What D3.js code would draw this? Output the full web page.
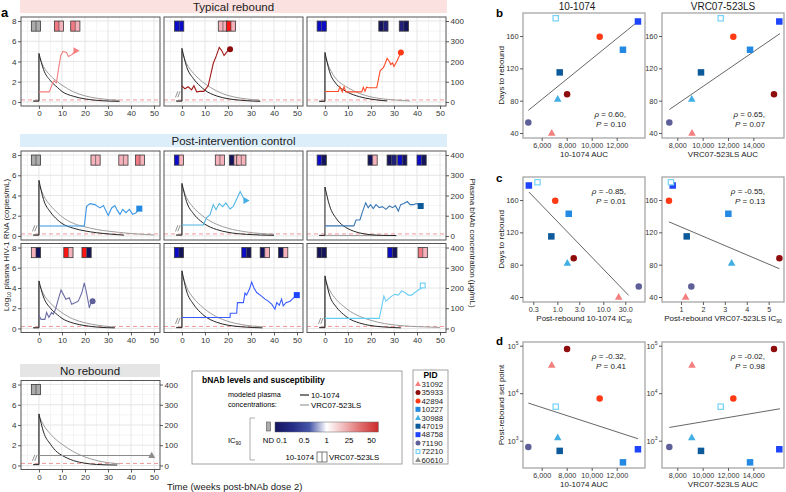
<!DOCTYPE html>
<html>
<head>
<meta charset="utf-8">
<script src="https://cdn.jsdelivr.net/npm/d3@7"></script>
<style>
  body { margin: 0; background: #fff; }
  svg { font-family: "Liberation Sans", Arial, sans-serif; }
</style>
</head>
<body>
<svg width="786" height="492"></svg>
<script>
// participants, in the order of the PID legend
const pids = ['31092', '35933', '42894', '10227', '30988', '47019', '48758', '71190', '72210', '60610'];
const pidColors = ['#F47F7F', '#8E0C0C', '#FF3A14', '#2389E3', '#41AFE3', '#0D5A9A', '#1F45FC', '#5E5E98', '#74D2F7', '#8C8C8C'];
const pidShapes = ['triangle', 'circle', 'circle', 'square', 'triangle', 'square', 'square', 'circle', 'openSquare', 'triangle'];
const timeMarkerShapes = ['triangleRight', 'circle', 'circle', 'square', 'triangleRight', 'square', 'square', 'circle', 'openSquare', 'triangle'];
const lineColors = ['#F47F7F', '#A31A1A', '#FF4A2A', '#3A97E6', '#52B8E6', '#3A78B5', '#3A5CFF', '#6E6EA6', '#6ACDF5', '#8C8C8C'];

// panel a layout
const stripLabels = ['Typical rebound', 'Post-intervention control', 'No rebound'];
const facetRows = [['31092', '35933', '42894'], ['10227', '30988', '47019'], ['71190', '48758', '72210'], ['60610']];
const weekTicks = [0, 10, 20, 30, 40, 50];
const weekMinor = [-5, 5, 15, 25, 35, 45];
const logTicks = [0, 2, 4, 6, 8];
const logMinor = [1, 3, 5, 7];
const bnabTicks = [0, 100, 200, 300, 400];
const detectionLog = 0.2;
const breakPids = ['35933', '10227', '30988', '48758', '72210', '60610'];

// viral load, [week, log10 copies/mL]; last point carries the marker
const vl31092 = [[0, 1], [4.5, 1], [6, 1.9], [6.6, 2.1], [7.6, 1.9], [8.6, 3.4], [9.5, 4.6], [10.4, 5.0], [12, 4.9], [12.8, 4.5], [14.5, 4.7], [15.5, 5.0], [16.1, 5.07]];
const vl35933 = [[0, 1.6], [1.3, 1.3], [2.7, 1.5], [4.2, 1.2], [5.2, 1.6], [6.4, 1.0], [7.8, 1.05], [9.5, 1.05], [11.4, 1.6], [13.6, 3.8], [15, 4.6], [16.2, 5.4], [17.2, 5.1], [18.3, 4.6], [19.4, 4.9], [20, 5.1], [20.9, 5.2]];
const vl42894 = [[0, 1.04], [5.8, 1.04], [6.5, 1.5], [7.5, 1.0], [8.3, 1.5], [9.1, 1.0], [16, 1.0], [16.7, 1.45], [17.4, 1.05], [18.1, 1.45], [18.8, 1.4], [22.5, 1.4], [24, 3.1], [25.4, 3.4], [26, 3.7], [27, 4.3], [28, 4.0], [28.6, 3.7], [29.4, 3.85], [30, 3.5], [31.2, 4.0], [32.2, 4.5], [33, 4.9]];
const vl10227 = [[0, 0.98], [19.7, 0.98], [20.7, 2.93], [22.2, 3.2], [24.3, 3.1], [26.5, 2.77], [28, 3.0], [30.1, 2.03], [31.6, 2.77], [33, 3.0], [34, 2.55], [35.2, 2.13], [36.4, 2.62], [37.8, 2.3], [39.3, 2.62], [40.7, 2.13], [42.2, 2.3], [43.6, 2.7]];
const vl30988 = [[0, 1.08], [9.3, 1.08], [10.7, 1.8], [12.2, 2.1], [13.6, 3.1], [14.8, 2.6], [16.2, 3.2], [17.7, 2.9], [19.1, 3.26], [20.9, 2.67], [22.3, 2.93], [24, 3.75], [25.3, 4.4], [26.7, 3.75], [27.8, 3.5]];
const vl47019 = [[0, 1.0], [12.6, 1.0], [13.5, 1.58], [15.2, 1.58], [16.4, 2.46], [17.7, 3.27], [18.8, 2.8], [19.8, 3.1], [21, 2.7], [22.2, 3.1], [23.6, 2.8], [25, 2.9], [26.5, 2.63], [28, 2.96], [29.4, 2.8], [30.6, 3.0], [31.9, 2.46], [32.9, 3.1], [34.3, 3.2], [35.8, 3.4], [37, 3.1], [38.4, 3.1], [39.9, 3.2], [41.6, 2.96]];
const vl71190 = [[0, 1.3], [0.9, 0.9], [2.6, 0.9], [3.3, 1.58], [4.3, 1.1], [5.5, 1.58], [6.2, 1.4], [7.2, 1.9], [8.4, 2.88], [9.6, 3.8], [10.6, 3.37], [11.7, 2.88], [13.2, 3.04], [14.2, 2.4], [15.7, 2.55], [17.1, 2.7], [18.6, 3.5], [19.7, 4.5], [20.7, 3.5], [21.9, 2.04], [22.6, 2.55], [23.3, 2.7]];
const vl48758 = [[0, 1.09], [20.9, 1.09], [21, 1.5], [23.8, 1.5], [24.1, 2.55], [26.7, 2.55], [27.4, 3.5], [28.1, 3.3], [29.3, 3.87], [30.3, 4.58], [31.3, 4.0], [32.5, 3.55], [34.6, 3.2], [36.1, 2.9], [37.5, 2.7], [39, 2.4], [40.4, 1.9], [41.2, 2.55], [42.3, 2.3], [43.3, 2.9], [44, 2.23], [45.2, 2.55], [47, 2.7], [48.4, 3.0], [49.9, 3.3]];
const vl72210 = [[0, 1.0], [23.6, 1.0], [25.6, 3.2], [26.5, 2.7], [27.5, 2.9], [29, 3.2], [30.4, 3.37], [31.9, 3.3], [33.3, 3.7], [34.8, 3.55], [36.2, 3.3], [37.7, 3.3], [39.1, 3.55], [40.6, 3.8], [42, 4.0], [42.5, 4.25]];
const vl60610 = [[0, 0.98], [49, 0.98]];

// modeled plasma bNAb, [week, ug/mL]
const pk1074_31092 = [[-2.5, 4], [0, 4], [0, 240], [2, 160], [5, 105], [8, 72], [10, 52], [15, 28], [20, 15], [26, 7], [35, 3]];
const pkVrc_31092 = [[-2.5, 6], [0, 6], [0, 225], [2, 175], [5, 130], [8, 100], [10, 83], [15, 50], [20, 30], [26, 17], [35, 8]];
const pk1074_35933 = [[-2.5, 4], [0, 4], [0, 265], [2, 175], [5, 115], [8, 78], [10, 58], [15, 30], [20, 16], [26, 8], [34, 3]];
const pkVrc_35933 = [[-2.5, 6], [0, 6], [0, 250], [2, 190], [5, 142], [8, 108], [10, 90], [15, 55], [20, 32], [26, 18], [34, 8]];
const pk1074_42894 = [[-2.5, 3], [0, 3], [0, 245], [2, 150], [5, 88], [8, 60], [10, 47], [15, 26], [20, 14], [27, 5]];
const pkVrc_42894 = [[-2.5, 5], [0, 5], [0, 230], [2, 168], [5, 112], [8, 84], [10, 70], [15, 42], [20, 25], [26, 14], [30, 10], [37, 5]];
const pk1074_10227 = [[-2.5, 4], [0, 4], [0, 275], [2, 180], [5, 118], [8, 80], [10, 62], [15, 38], [20, 25], [25, 16], [30, 10], [37, 4]];
const pkVrc_10227 = [[-2.5, 6], [0, 6], [0, 255], [2, 200], [5, 150], [8, 115], [10, 95], [15, 62], [20, 45], [25, 32], [30, 24], [40, 12], [50, 5]];
const pk1074_30988 = [[-2.5, 4], [0, 4], [0, 260], [2, 170], [5, 110], [8, 75], [10, 58], [15, 32], [20, 18], [28, 8], [40, 3]];
const pkVrc_30988 = [[-2.5, 6], [0, 6], [0, 250], [2, 190], [5, 140], [8, 108], [10, 90], [15, 58], [20, 38], [28, 20], [40, 8]];
const pk1074_47019 = [[-2.5, 3], [0, 3], [0, 242], [2, 150], [5, 85], [8, 50], [10, 36], [15, 15], [20, 6], [25, 3], [31, 2]];
const pkVrc_47019 = [[-2.5, 2], [0, 2], [0, 3], [15, 2], [31, 2]];
const pk1074_71190 = [[-2.5, 3], [0, 3], [0, 235], [2, 155], [5, 100], [8, 68], [10, 50], [15, 26], [20, 14], [26, 6], [33, 3]];
const pkVrc_71190 = [[-2.5, 5], [0, 5], [0, 220], [2, 170], [5, 125], [8, 95], [10, 78], [15, 46], [20, 28], [26, 15], [33, 7]];
const pk1074_48758 = [[-2.5, 4], [0, 4], [0, 285], [2, 185], [5, 120], [8, 80], [10, 60], [15, 31], [20, 16], [26, 8], [35, 3]];
const pkVrc_48758 = [[-2.5, 6], [0, 6], [0, 272], [2, 205], [5, 150], [8, 115], [10, 95], [15, 58], [20, 35], [26, 19], [35, 8]];
const pk1074_72210 = [[-2.5, 4], [0, 4], [0, 260], [2, 165], [5, 105], [8, 70], [10, 52], [15, 27], [20, 14], [26, 7], [33, 3]];
const pkVrc_72210 = [[-2.5, 6], [0, 6], [0, 245], [2, 190], [5, 142], [8, 110], [10, 92], [15, 60], [20, 40], [26, 24], [33, 14], [40, 9], [50, 5]];
const pk1074_60610 = [[-2.5, 4], [0, 4], [0, 255], [2, 165], [5, 105], [8, 65], [10, 50], [15, 24], [20, 11], [25, 5], [34, 2]];
const pkVrc_60610 = [[-2.5, 6], [0, 6], [0, 245], [2, 200], [5, 155], [8, 122], [10, 105], [15, 68], [20, 42], [26, 22], [35, 8]];

// IC90 boxes, [week, 10-1074 class, VRC07-523LS class]
const ic90Colors = { nd: '#ABABAB', navy: '#14145C', navy2: '#20207A', blue: '#0B0BCB', pink: '#F6B2BB', salmon: '#F07984', red: '#FF1414' };
const ic31092 = [[-1.3, 'nd', 'nd'], [8.7, 'salmon', 'pink'], [15.8, 'salmon', 'pink']];
const ic35933 = [[-1.2, 'blue', 'blue'], [17.8, 'pink', 'pink'], [21.3, 'red', 'pink']];
const ic42894 = [[-1.4, 'blue', 'blue'], [25.4, 'navy', 'navy2'], [34.3, 'navy2', 'navy']];
const ic10227 = [[-1.3, 'nd', 'nd'], [24.6, 'pink', 'pink'], [36.7, 'pink', 'pink'], [43.9, 'salmon', 'pink']];
const ic30988 = [[-1.3, 'blue', 'pink'], [16.5, 'pink', 'pink'], [22.6, 'navy', 'pink'], [25.8, 'pink', 'pink']];
const ic47019 = [[-1.4, 'blue', 'navy'], [20.7, 'navy', 'pink'], [29, 'navy', 'navy2'], [33.6, 'blue', 'navy'], [42, 'blue', 'navy']];
const ic71190 = [[-1.3, 'pink', 'navy'], [12.8, 'red', 'pink'], [20.7, 'red', 'navy']];
const ic48758 = [[-1.3, 'blue', 'navy'], [28, 'blue', 'navy'], [36, 'navy', 'pink'], [44, 'navy', 'pink']];
const ic72210 = [[-1.4, 'navy', 'navy'], [29.3, 'blue', 'navy'], [42.5, 'salmon', 'pink']];
const ic60610 = [[-1.3, 'nd', 'nd']];

// IC90 colour bar
const ic90Labels = ['0.1', '0.5', '1', '25', '50'];
const ic90Gradient = ['#151560', '#242C86', '#4656A8', '#FFFFFF', '#F0B8B8', '#E06C6C', '#CC2A2A'];

// panels b-d, rebounders in PID order
const auc1074 = [6800, 8030, 10640, 12500, 7280, 7440, 13700, 4930, 7120];
const aucVrc = [9160, 15630, 12420, 13740, 9140, 9870, 16050, 7370, 11425];
const daysToRebound = [40, 88, 159, 143, 82, 115, 178, 53, 182];
const ic90Rebound1074 = [21.6, 2.27, 0.9, 1.77, 1.65, 0.74, 0.24, 59, 0.37];
const ic90ReboundVrc = [1.21, 5.49, 0.45, 3.16, 3.31, 1.26, 0.62, 1.47, 0.54];
const setPoint = [39000, 85000, 7700, 350, 1170, 610, 660, 740, 5200];
const fitB1074 = [[4930, 68], [13700, 178]];
const fitBVrc = [[7370, 69], [16100, 163]];
const fitC1074 = [[0.24, 170], [35.6, 42]];
const fitCVrc = [[0.45, 133], [5.49, 75]];
const fitD1074 = [[4930, 6200], [13700, 1100]];
const fitDVrc = [[7370, 1900], [16100, 4700]];
const rhoVals = ['0.60', '0.65', '-0.85', '-0.55', '-0.32', '-0.02'];
const pVals = ['0.10', '0.07', '0.01', '0.13', '0.41', '0.98'];

const svg = d3.select('svg');
const colorOf = {}, shapeOf = {}, timeShapeOf = {}, lineColorOf = {};
pids.forEach((p, i) => {
  colorOf[p] = pidColors[i];
  shapeOf[p] = pidShapes[i];
  timeShapeOf[p] = timeMarkerShapes[i];
  lineColorOf[p] = lineColors[i];
});
const vlByPid = { '31092': vl31092, '35933': vl35933, '42894': vl42894, '10227': vl10227, '30988': vl30988,
  '47019': vl47019, '48758': vl48758, '71190': vl71190, '72210': vl72210, '60610': vl60610 };
const pk1074ByPid = { '31092': pk1074_31092, '35933': pk1074_35933, '42894': pk1074_42894, '10227': pk1074_10227, '30988': pk1074_30988,
  '47019': pk1074_47019, '48758': pk1074_48758, '71190': pk1074_71190, '72210': pk1074_72210, '60610': pk1074_60610 };
const pkVrcByPid = { '31092': pkVrc_31092, '35933': pkVrc_35933, '42894': pkVrc_42894, '10227': pkVrc_10227, '30988': pkVrc_30988,
  '47019': pkVrc_47019, '48758': pkVrc_48758, '71190': pkVrc_71190, '72210': pkVrc_72210, '60610': pkVrc_60610 };
const icByPid = { '31092': ic31092, '35933': ic35933, '42894': ic42894, '10227': ic10227, '30988': ic30988,
  '47019': ic47019, '48758': ic48758, '71190': ic71190, '72210': ic72210, '60610': ic60610 };

function marker(g, shape, x, y, s, color) {
  if (shape === 'circle') {
    g.append('circle').attr('cx', x).attr('cy', y).attr('r', s / 2).attr('fill', color);
  } else if (shape === 'square') {
    g.append('rect').attr('x', x - s / 2).attr('y', y - s / 2).attr('width', s).attr('height', s).attr('fill', color);
  } else if (shape === 'openSquare') {
    g.append('rect').attr('x', x - s / 2 + 0.6).attr('y', y - s / 2 + 0.6).attr('width', s - 1.2).attr('height', s - 1.2)
      .attr('fill', '#fff').attr('stroke', color).attr('stroke-width', 1.2);
  } else if (shape === 'triangle') {
    g.append('path').attr('d', `M${x},${y - s * 0.62}L${x + s * 0.58},${y + s * 0.42}L${x - s * 0.58},${y + s * 0.42}Z`).attr('fill', color);
  } else if (shape === 'triangleRight') {
    g.append('path').attr('d', `M${x + s * 0.62},${y}L${x - s * 0.42},${y - s * 0.58}L${x - s * 0.42},${y + s * 0.58}Z`).attr('fill', color);
  }
}

function styleAxis(sel, size) {
  sel.select('.domain').remove();
  sel.attr('font-family', null).attr('font-size', null);
  sel.selectAll('.tick line').attr('stroke', '#333').attr('stroke-width', 0.8);
  sel.selectAll('.tick text').attr('fill', '#333').attr('font-size', size || 8);
}

// ---------- panel a ----------
const weekDomain = [-7.8, 52.6];
const logDomain = [-0.4, 8.4];
const bnabDomain = [-20, 420];
const panelW = 139, panelH = 89;
const colX = [21, 164, 307];
const rowY = [17, 151, 243.5, 380.5];

function timePanel(pid, x0, y0, axes) {
  const x = d3.scaleLinear().domain(weekDomain).range([x0, x0 + panelW]);
  const y = d3.scaleLinear().domain(logDomain).range([y0 + panelH, y0]);
  const yR = d3.scaleLinear().domain(bnabDomain).range([y0 + panelH, y0]);
  const g = svg.append('g');

  g.append('rect').attr('x', x0).attr('y', y0).attr('width', panelW).attr('height', panelH).attr('fill', '#fff');
  g.selectAll('.vminor').data(weekMinor).enter().append('line')
    .attr('x1', d => x(d)).attr('x2', d => x(d)).attr('y1', y0).attr('y2', y0 + panelH).attr('stroke', '#F4F4F4');
  g.selectAll('.hminor').data(logMinor).enter().append('line')
    .attr('y1', d => y(d)).attr('y2', d => y(d)).attr('x1', x0).attr('x2', x0 + panelW).attr('stroke', '#F4F4F4');
  g.selectAll('.vmajor').data(weekTicks).enter().append('line')
    .attr('x1', d => x(d)).attr('x2', d => x(d)).attr('y1', y0).attr('y2', y0 + panelH).attr('stroke', '#E6E6E6');
  g.selectAll('.hmajor').data(logTicks).enter().append('line')
    .attr('y1', d => y(d)).attr('y2', d => y(d)).attr('x1', x0).attr('x2', x0 + panelW).attr('stroke', '#E6E6E6');

  const clipId = 'clip' + pid;
  svg.append('clipPath').attr('id', clipId).append('rect')
    .attr('x', x0).attr('y', y0).attr('width', panelW).attr('height', panelH);
  const inner = g.append('g').attr('clip-path', `url(#${clipId})`);

  inner.append('line').attr('x1', x0).attr('x2', x0 + panelW).attr('y1', y(detectionLog)).attr('y2', y(detectionLog))
    .attr('stroke', '#F19A9A').attr('stroke-width', 1).attr('stroke-dasharray', '4,3');

  const stepLine = d3.line().x(d => x(d[0])).y(d => yR(d[1]));
  const decayLine = d3.line().x(d => x(d[0])).y(d => yR(d[1])).curve(d3.curveMonotoneX);
  [[pkVrcByPid[pid], '#9C9C9C'], [pk1074ByPid[pid], '#262626']].forEach(([pk, c]) => {
    inner.append('path').attr('d', stepLine(pk.slice(0, 3))).attr('fill', 'none').attr('stroke', c).attr('stroke-width', 1);
    inner.append('path').attr('d', decayLine(pk.slice(2))).attr('fill', 'none').attr('stroke', c).attr('stroke-width', 1);
  });

  if (breakPids.includes(pid)) {
    [-2.3, -1.3].forEach(w => {
      inner.append('line').attr('x1', x(w - 0.5)).attr('y1', y(0.45)).attr('x2', x(w + 0.5)).attr('y2', y(1.05))
        .attr('stroke', '#777').attr('stroke-width', 0.8);
    });
  }

  const vl = vlByPid[pid];
  inner.append('path').datum(vl)
    .attr('d', d3.line().x(d => x(d[0])).y(d => y(d[1])))
    .attr('fill', 'none').attr('stroke', lineColorOf[pid]).attr('stroke-width', 1.1);
  const last = vl[vl.length - 1];
  marker(inner, timeShapeOf[pid], x(last[0]), y(last[1]), 6, colorOf[pid]);

  icByPid[pid].forEach(([w, c1, c2]) => {
    const bt = y(8), bb = y(7);
    g.append('rect').attr('x', x(w - 2)).attr('y', bt).attr('width', x(w) - x(w - 2)).attr('height', bb - bt).attr('fill', ic90Colors[c1]);
    g.append('rect').attr('x', x(w)).attr('y', bt).attr('width', x(w + 2) - x(w)).attr('height', bb - bt).attr('fill', ic90Colors[c2]);
    g.append('rect').attr('x', x(w - 2)).attr('y', bt).attr('width', x(w + 2) - x(w - 2)).attr('height', bb - bt)
      .attr('fill', 'none').attr('stroke', '#3A3A3A').attr('stroke-width', 0.8);
    g.append('line').attr('x1', x(w)).attr('x2', x(w)).attr('y1', bt).attr('y2', bb).attr('stroke', '#3A3A3A').attr('stroke-width', 0.6);
  });

  g.append('rect').attr('x', x0).attr('y', y0).attr('width', panelW).attr('height', panelH)
    .attr('fill', 'none').attr('stroke', '#555').attr('stroke-width', 1);

  if (axes.left) {
    styleAxis(g.append('g').attr('transform', `translate(${x0},0)`)
      .call(d3.axisLeft(y).tickValues(logTicks).tickSize(3).tickPadding(1.5)));
  }
  if (axes.right) {
    styleAxis(g.append('g').attr('transform', `translate(${x0 + panelW},0)`)
      .call(d3.axisRight(yR).tickValues(bnabTicks).tickSize(3).tickPadding(1.5)));
  }
  if (axes.bottom) {
    styleAxis(g.append('g').attr('transform', `translate(0,${y0 + panelH})`)
      .call(d3.axisBottom(x).tickValues(weekTicks).tickSize(3).tickPadding(1.5)));
  }
}

// strips
const strips = [[stripLabels[0], '#FCE1E1', 0, 447], [stripLabels[1], '#DDEEFB', 134, 447], [stripLabels[2], '#E5E5E5', 364, 160]];
strips.forEach(([label, fill, sy, sx1]) => {
  svg.append('rect').attr('x', 20).attr('y', sy).attr('width', sx1 - 20).attr('height', 13).attr('fill', fill);
  svg.append('text').attr('x', (20 + sx1) / 2).attr('y', sy + 10.5).attr('text-anchor', 'middle')
    .attr('font-size', 11.5).attr('fill', '#1A1A1A').text(label);
});

facetRows.forEach((row, r) => {
  row.forEach((pid, c) => {
    timePanel(pid, colX[c], rowY[r], {
      left: c === 0,
      right: c === row.length - 1,
      bottom: r !== 1
    });
  });
});

svg.append('text').attr('x', 1).attr('y', 17).attr('font-size', 13).attr('font-weight', 'bold').text('a');

const yTitleA = svg.append('text').attr('transform', 'translate(9,245) rotate(-90)').attr('text-anchor', 'middle')
  .attr('font-size', 8).attr('fill', '#1A1A1A');
yTitleA.append('tspan').text('Log');
yTitleA.append('tspan').attr('font-size', 5.5).attr('dy', 2).text('10');
yTitleA.append('tspan').attr('dy', -2).text(' plasma HIV-1 RNA (copies/mL)');

svg.append('text').attr('transform', 'translate(470,243) rotate(90)').attr('text-anchor', 'middle')
  .attr('font-size', 8).attr('fill', '#1A1A1A').text('Plasma bNAb concentration (\u00B5g/mL)');

svg.append('text').attr('x', 167).attr('y', 490).attr('font-size', 9.5).attr('fill', '#1A1A1A')
  .text('Time (weeks post-bNAb dose 2)');

// legend box
const lg = svg.append('g');
lg.append('rect').attr('x', 192).attr('y', 371).attr('width', 210).attr('height', 93)
  .attr('fill', '#fff').attr('stroke', '#8A8A8A').attr('stroke-width', 0.8);
lg.append('text').attr('x', 202).attr('y', 383).attr('font-size', 8.5).attr('font-weight', 'bold').text('bNAb levels and susceptibility');
lg.append('text').attr('x', 228).attr('y', 397).attr('font-size', 7.2).text('modeled plasma');
lg.append('text').attr('x', 228).attr('y', 407).attr('font-size', 7.2).text('concentrations:');
[['10-1074', '#262626', 395], ['VRC07-523LS', '#9C9C9C', 405]].forEach(([lab, c, ly]) => {
  lg.append('line').attr('x1', 300).attr('x2', 309).attr('y1', ly).attr('y2', ly).attr('stroke', c).attr('stroke-width', 1.2);
  lg.append('text').attr('x', 311).attr('y', ly + 3).attr('font-size', 7.8).text(lab);
});
const ic90Lab = lg.append('text').attr('x', 228).attr('y', 443).attr('font-size', 7.5);
ic90Lab.append('tspan').text('IC');
ic90Lab.append('tspan').attr('font-size', 5).attr('dy', 1.8).text('90');
lg.append('path').attr('d', 'M255,418 L250,418 L250,460 L255,460').attr('fill', 'none').attr('stroke', '#999').attr('stroke-width', 0.8);

const grad = svg.append('defs').append('linearGradient').attr('id', 'icGrad');
ic90Gradient.forEach((c, i) => grad.append('stop').attr('offset', i / (ic90Gradient.length - 1)).attr('stop-color', c));
const barX0 = 275, barX1 = 378.3;
lg.append('rect').attr('x', barX0).attr('y', 422).attr('width', barX1 - barX0).attr('height', 10)
  .attr('fill', 'url(#icGrad)').attr('stroke', '#666').attr('stroke-width', 0.5);
lg.append('rect').attr('x', 266.5).attr('y', 422).attr('width', 4).attr('height', 9)
  .attr('fill', ic90Colors.nd).attr('stroke', '#555').attr('stroke-width', 0.6);
const icPos = d3.scalePoint().domain(ic90Labels).range([barX0, barX1]).padding(0.3);
lg.append('text').attr('x', 268.5).attr('y', 443).attr('text-anchor', 'middle').attr('font-size', 7.8).text('ND');
ic90Labels.forEach(l => {
  lg.append('text').attr('x', icPos(l)).attr('y', 443).attr('text-anchor', 'middle').attr('font-size', 7.8).text(l);
});
lg.append('text').attr('x', 314).attr('y', 460).attr('text-anchor', 'end').attr('font-size', 7.8).text('10-1074');
lg.append('rect').attr('x', 317).attr('y', 452).attr('width', 10).attr('height', 10)
  .attr('fill', '#fff').attr('stroke', '#444').attr('stroke-width', 0.7);
lg.append('line').attr('x1', 322).attr('x2', 322).attr('y1', 452).attr('y2', 462).attr('stroke', '#444').attr('stroke-width', 0.7);
lg.append('text').attr('x', 329).attr('y', 460).attr('font-size', 7.8).text('VRC07-523LS');

// PID legend
const pg = svg.append('g');
pg.append('rect').attr('x', 413).attr('y', 370).attr('width', 35).attr('height', 94)
  .attr('fill', '#fff').attr('stroke', '#8A8A8A').attr('stroke-width', 0.8);
pg.append('text').attr('x', 430.5).attr('y', 378).attr('text-anchor', 'middle').attr('font-size', 8.5).attr('font-weight', 'bold').text('PID');
const pidY = d3.scalePoint().domain(pids).range([384, 460]);
pids.forEach(p => {
  marker(pg, shapeOf[p], 418, pidY(p), 5, colorOf[p]);
  pg.append('text').attr('x', 421.5).attr('y', pidY(p) + 2.8).attr('font-size', 7.8).attr('fill', '#1A1A1A').text(p);
});

// ---------- panels b, c, d ----------
const xAuc1074 = d3.scaleLinear().domain([4504, 14264]).range([523, 645]);
const xAucVrc = d3.scaleLinear().domain([6792, 16421]).range([662, 784]);
const xIc1074 = d3.scaleLog().domain([0.179, 80.7]).range([523, 645]);
const xIcVrc = d3.scaleLinear().domain([0.132, 5.70]).range([662, 784]);
const yDaysB = d3.scaleLinear().domain([33.8, 188.5]).range([138, 13]);
const yDaysC = d3.scaleLinear().domain([33.8, 188.5]).range([302, 177]);
const ySetD = d3.scaleLog().domain([Math.pow(10, 2.425), Math.pow(10, 5.078)]).range([468, 342]);

const aucTicks1074 = [6000, 8000, 10000, 12000];
const aucTicksVrc = [8000, 10000, 12000, 14000];
const icTicks1074 = [0.3, 1, 3, 10, 30];
const icTicksVrc = [1, 2, 3, 4, 5];
const dayTicks = [40, 80, 120, 160];
const setTicks = [1e3, 1e4, 1e5];

function scatterPanel(cfg) {
  const x = cfg.x, y = cfg.y;
  const [x0, x1] = x.range();
  const [yb, yt] = y.range();
  const g = svg.append('g');
  g.append('rect').attr('x', x0).attr('y', yt).attr('width', x1 - x0).attr('height', yb - yt).attr('fill', '#fff');
  g.append('path').datum(cfg.fit).attr('d', d3.line().x(d => x(d[0])).y(d => y(d[1])))
    .attr('fill', 'none').attr('stroke', '#555').attr('stroke-width', 0.9);
  pids.slice(0, 9).forEach((p, i) => marker(g, shapeOf[p], x(cfg.xv[i]), y(cfg.yv[i]), 6.5, colorOf[p]));
  g.append('rect').attr('x', x0).attr('y', yt).attr('width', x1 - x0).attr('height', yb - yt)
    .attr('fill', 'none').attr('stroke', '#A6A6A6').attr('stroke-width', 1.3);

  styleAxis(g.append('g').attr('transform', `translate(0,${yb})`)
    .call(d3.axisBottom(x).tickValues(cfg.xTicks).tickFormat(cfg.xFmt).tickSize(3).tickPadding(1.5)), 7.2);
  const ya = g.append('g').attr('transform', `translate(${x0},0)`)
    .call(d3.axisLeft(y).tickValues(cfg.yTicks).tickFormat(cfg.yLog ? () => '' : d3.format('d')).tickSize(3).tickPadding(1.5));
  styleAxis(ya, 7.4);
  if (cfg.yLog) {
    ya.selectAll('.tick text').each(function (d) {
      const t = d3.select(this);
      t.append('tspan').text('10');
      t.append('tspan').attr('dy', -3.5).attr('font-size', 5).text(Math.round(Math.log10(d)));
    });
  }

  const sx = x1 - 19;
  const sy = cfg.statsTop ? yt + 17 : yb - 21;
  const s1 = g.append('text').attr('x', sx).attr('y', sy).attr('text-anchor', 'end').attr('font-size', 8).attr('fill', '#1A1A1A');
  s1.append('tspan').attr('font-style', 'italic').text('\u03C1');
  s1.append('tspan').text(' = ' + cfg.rho + ',');
  const s2 = g.append('text').attr('x', sx).attr('y', sy + 9.5).attr('text-anchor', 'end').attr('font-size', 8).attr('fill', '#1A1A1A');
  s2.append('tspan').attr('font-style', 'italic').text('P');
  s2.append('tspan').text(' = ' + cfg.p);

  const xt = g.append('text').attr('x', (x0 + x1) / 2).attr('y', yb + 19).attr('text-anchor', 'middle')
    .attr('font-size', 8).attr('fill', '#1A1A1A');
  xt.append('tspan').text(cfg.xTitle);
  if (cfg.xSub) xt.append('tspan').attr('font-size', 5).attr('dy', 1.8).text(cfg.xSub);
  if (cfg.yTitle) {
    svg.append('text').attr('transform', `translate(504,${(yt + yb) / 2}) rotate(-90)`).attr('text-anchor', 'middle')
      .attr('font-size', 8).attr('fill', '#1A1A1A').text(cfg.yTitle);
  }
}

const fmtComma = d3.format(',');
scatterPanel({ x: xAuc1074, y: yDaysB, xv: auc1074, yv: daysToRebound, fit: fitB1074, xTicks: aucTicks1074, xFmt: fmtComma,
  yTicks: dayTicks, rho: rhoVals[0], p: pVals[0], statsTop: false, xTitle: '10-1074 AUC', yTitle: 'Days to rebound' });
scatterPanel({ x: xAucVrc, y: yDaysB, xv: aucVrc, yv: daysToRebound, fit: fitBVrc, xTicks: aucTicksVrc, xFmt: fmtComma,
  yTicks: dayTicks, rho: rhoVals[1], p: pVals[1], statsTop: false, xTitle: 'VRC07-523LS AUC' });
scatterPanel({ x: xIc1074, y: yDaysC, xv: ic90Rebound1074, yv: daysToRebound, fit: fitC1074, xTicks: icTicks1074, xFmt: d3.format('.1f'),
  yTicks: dayTicks, rho: rhoVals[2], p: pVals[2], statsTop: true, xTitle: 'Post-rebound 10-1074 IC', xSub: '90', yTitle: 'Days to rebound' });
scatterPanel({ x: xIcVrc, y: yDaysC, xv: ic90ReboundVrc, yv: daysToRebound, fit: fitCVrc, xTicks: icTicksVrc, xFmt: d3.format('d'),
  yTicks: dayTicks, rho: rhoVals[3], p: pVals[3], statsTop: true, xTitle: 'Post-rebound VRC07-523LS IC', xSub: '90' });
scatterPanel({ x: xAuc1074, y: ySetD, xv: auc1074, yv: setPoint, fit: fitD1074, xTicks: aucTicks1074, xFmt: fmtComma,
  yTicks: setTicks, yLog: true, rho: rhoVals[4], p: pVals[4], statsTop: true, xTitle: '10-1074 AUC', yTitle: 'Post-rebound set point' });
scatterPanel({ x: xAucVrc, y: ySetD, xv: aucVrc, yv: setPoint, fit: fitDVrc, xTicks: aucTicksVrc, xFmt: fmtComma,
  yTicks: setTicks, yLog: true, rho: rhoVals[5], p: pVals[5], statsTop: true, xTitle: 'VRC07-523LS AUC' });

svg.append('text').attr('x', 577).attr('y', 10).attr('text-anchor', 'middle').attr('font-size', 10).attr('fill', '#1A1A1A').text('10-1074');
svg.append('text').attr('x', 723).attr('y', 10).attr('text-anchor', 'middle').attr('font-size', 10).attr('fill', '#1A1A1A').text('VRC07-523LS');
[['b', 17], ['c', 182], ['d', 345]].forEach(([l, ly]) => {
  svg.append('text').attr('x', 496).attr('y', ly).attr('font-size', 11.5).attr('font-weight', 'bold').text(l);
});
</script>
</body>
</html>
